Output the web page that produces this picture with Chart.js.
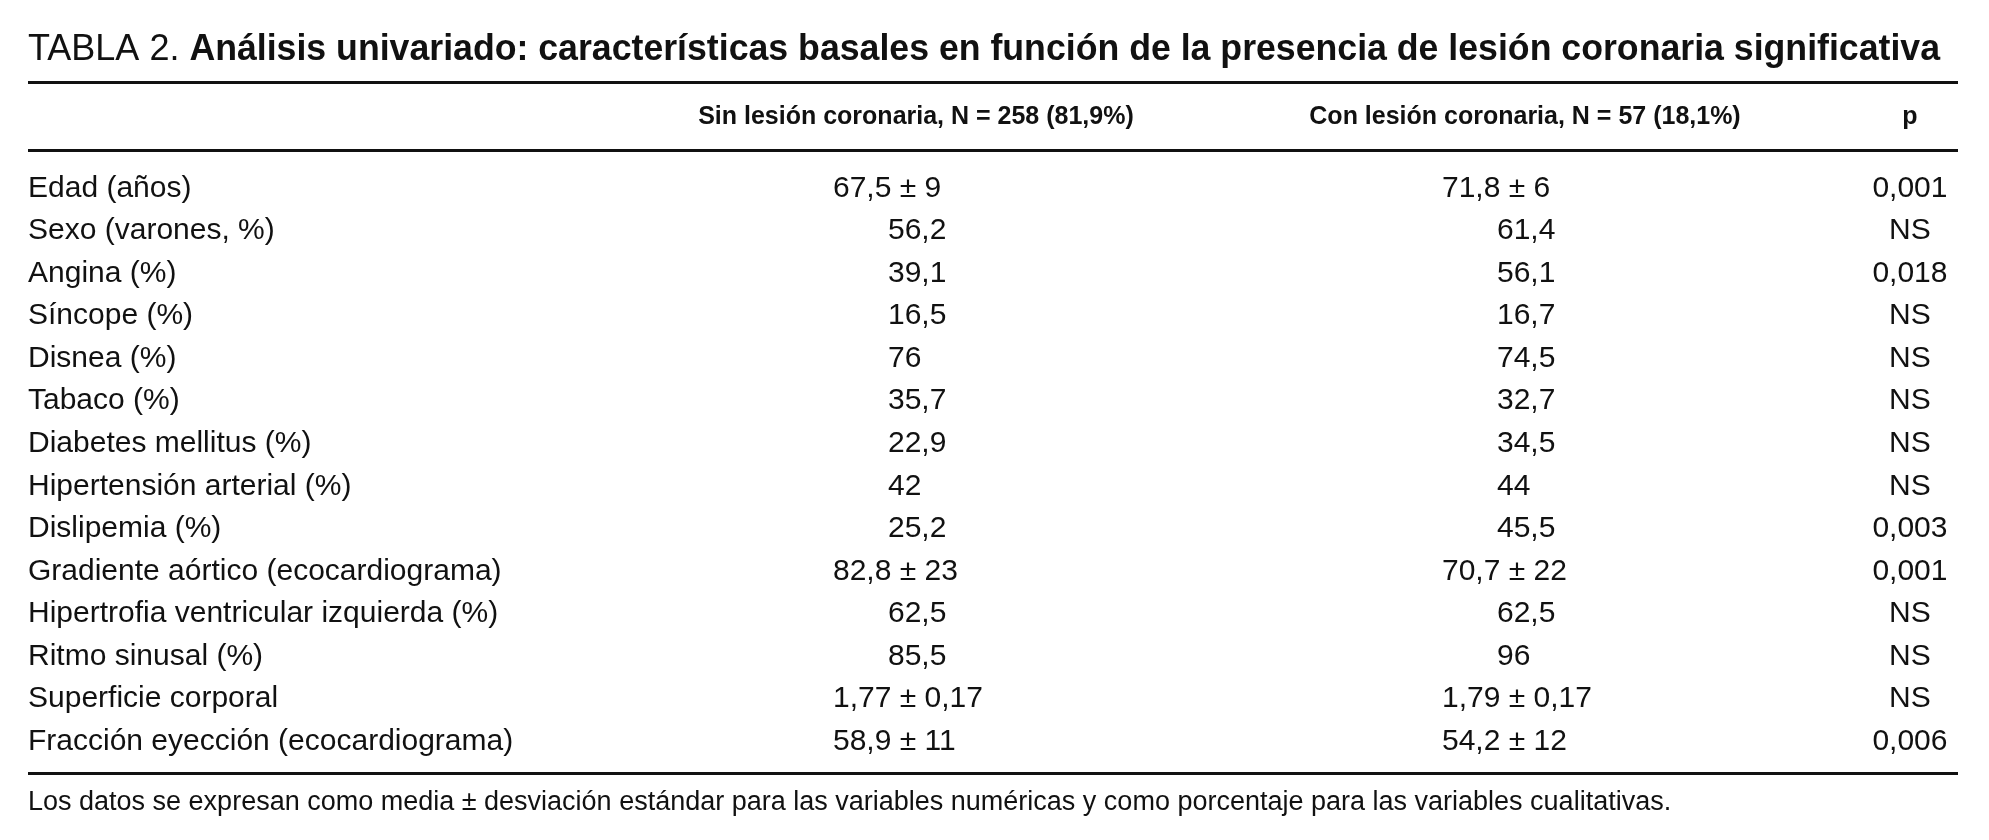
<!DOCTYPE html>
<html lang="es">
<head>
<meta charset="utf-8">
<title>Tabla 2</title>
<script src="https://cdn.jsdelivr.net/npm/chart.js@4.4.1/dist/chart.umd.min.js"></script>
<style>
  html, body { margin: 0; padding: 0; background: #fff; }
  #wrap { width: 1989px; height: 840px; }
</style>
</head>
<body>
<div id="wrap"><canvas id="tabla" width="1989" height="840"></canvas></div>
<script>
const rowLabels = [
	'Edad (años)',
	'Sexo (varones, %)',
	'Angina (%)',
	'Síncope (%)',
	'Disnea (%)',
	'Tabaco (%)',
	'Diabetes mellitus (%)',
	'Hipertensión arterial (%)',
	'Dislipemia (%)',
	'Gradiente aórtico (ecocardiograma)',
	'Hipertrofia ventricular izquierda (%)',
	'Ritmo sinusal (%)',
	'Superficie corporal',
	'Fracción eyección (ecocardiograma)'
];

const columnHeaders = [
	'Sin lesión coronaria, N = 258 (81,9%)',
	'Con lesión coronaria, N = 57 (18,1%)',
	'p'
];

// media (o porcentaje) y desviación estándar, null si no hay
const sinMedia = ['67,5', '56,2', '39,1', '16,5', '76', '35,7', '22,9', '42', '25,2', '82,8', '62,5', '85,5', '1,77', '58,9'];
const sinDE = ['9', null, null, null, null, null, null, null, null, '23', null, null, '0,17', '11'];
const conMedia = ['71,8', '61,4', '56,1', '16,7', '74,5', '32,7', '34,5', '44', '45,5', '70,7', '62,5', '96', '1,79', '54,2'];
const conDE = ['6', null, null, null, null, null, null, null, null, '22', null, null, '0,17', '12'];
const pValues = ['0,001', 'NS', '0,018', 'NS', 'NS', 'NS', 'NS', 'NS', '0,003', '0,001', 'NS', 'NS', 'NS', '0,006'];

const titleLead = 'TABLA 2. ';
const titleText = 'Análisis univariado: características basales en función de la presencia de lesión coronaria significativa';
const footnote = 'Los datos se expresan como media ± desviación estándar para las variables numéricas y como porcentaje para las variables cualitativas.';

const TEXT = '#111';
const FONT = '"Liberation Sans", Arial, sans-serif';
// posición de cada columna en el eje x (0 = fin de etiquetas, 1 = borde derecho)
const COL_X = [0.2713, 0.6972, 0.9664];

function cellText(media, de) {
	return media.map((m, i) => de[i] ? m + ' ± ' + de[i] : m);
}

function columnData(x) {
	return rowLabels.map(r => ({ x: x, y: r }));
}

const tablePlugin = {
	id: 'tablePlugin',
	afterDatasetsDraw(chart) {
		const ctx = chart.ctx;
		const area = chart.chartArea;
		const left = chart.scales.y.left;
		const right = area.right;
		ctx.save();
		ctx.fillStyle = TEXT;

		// título
		ctx.textBaseline = 'alphabetic';
		ctx.textAlign = 'left';
		ctx.font = '36px ' + FONT;
		ctx.fillText(titleLead, left, 60);
		const leadW = ctx.measureText(titleLead).width;
		ctx.font = 'bold 36px ' + FONT;
		ctx.fillText(titleText, left + leadW, 60, 1940 - left - leadW);

		// filetes
		ctx.fillRect(left, 81, right - left, 3);
		ctx.fillRect(left, 149, right - left, 3);
		ctx.fillRect(left, 772, right - left, 3);

		// cabeceras y celdas
		chart.data.datasets.forEach((ds, d) => {
			const meta = chart.getDatasetMeta(d);
			const hx = chart.scales.x.getPixelForValue(COL_X[d]);
			ctx.font = 'bold 25px ' + FONT;
			ctx.textAlign = 'center';
			ctx.textBaseline = 'middle';
			ctx.fillText(columnHeaders[d], hx, 117);

			ctx.font = '30px ' + FONT;
			meta.data.forEach((pt, i) => {
				const txt = ds.cells[i];
				if (ds.centered) {
					ctx.textAlign = 'center';
					ctx.fillText(txt, pt.x, pt.y);
				} else {
					ctx.textAlign = 'left';
					ctx.fillText(txt, pt.x - (txt.indexOf('±') >= 0 ? 83 : 28), pt.y);
				}
			});
		});

		// nota
		ctx.textAlign = 'left';
		ctx.textBaseline = 'alphabetic';
		ctx.font = '27px ' + FONT;
		ctx.fillText(footnote, left, 810, 1652);
		ctx.restore();
	}
};

const chart = new Chart(document.getElementById('tabla').getContext('2d'), {
	type: 'scatter',
	data: {
		datasets: [
			{ label: columnHeaders[0], data: columnData(COL_X[0]), cells: cellText(sinMedia, sinDE), pointRadius: 0 },
			{ label: columnHeaders[1], data: columnData(COL_X[1]), cells: cellText(conMedia, conDE), pointRadius: 0 },
			{ label: columnHeaders[2], data: columnData(COL_X[2]), cells: pValues, centered: true, pointRadius: 0 }
		]
	},
	options: {
		responsive: false,
		animation: false,
		events: [],
		layout: {
			padding: { left: 28, right: 31, top: 167, bottom: 77 }
		},
		plugins: {
			legend: { display: false },
			tooltip: { enabled: false }
		},
		scales: {
			x: {
				type: 'linear',
				min: 0,
				max: 1,
				display: false
			},
			y: {
				type: 'category',
				labels: rowLabels,
				offset: true,
				grid: { display: false },
				border: { display: false },
				ticks: {
					autoSkip: false,
					crossAlign: 'far',
					color: TEXT,
					font: { family: FONT, size: 30 }
				},
				afterFit(scale) {
					scale.width = 500;
				}
			}
		}
	},
	plugins: [tablePlugin]
});
</script>
</body>
</html>
